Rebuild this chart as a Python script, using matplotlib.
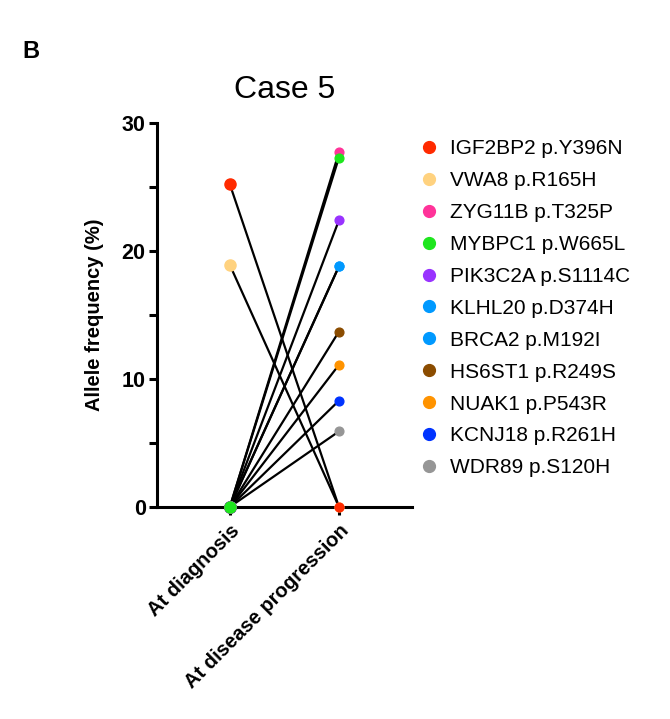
import matplotlib
matplotlib.use("Agg")
import matplotlib.pyplot as plt
from matplotlib.lines import Line2D

plt.rcParams['font.family'] = ['Liberation Sans', 'DejaVu Sans']

timepoints = ["At diagnosis", "At disease progression"]
variants = ["IGF2BP2 p.Y396N", "VWA8 p.R165H", "ZYG11B p.T325P", "MYBPC1 p.W665L",
            "PIK3C2A p.S1114C", "KLHL20 p.D374H", "BRCA2 p.M192I", "HS6ST1 p.R249S",
            "NUAK1 p.P543R", "KCNJ18 p.R261H", "WDR89 p.S120H"]
at_diagnosis = [25.2, 18.9, 0, 0, 0, 0, 0, 0, 0, 0, 0]
at_progression = [0, 0, 27.7, 27.3, 22.4, 18.8, 18.8, 13.7, 11.1, 8.3, 5.9]
colors = ["#ff2a00", "#ffd27f", "#ff3399", "#1ee61e", "#9933ff", "#0099ff",
          "#0099ff", "#8b4c00", "#ff9300", "#0033ff", "#969696"]

fig = plt.figure(figsize=(6.7, 7.19), dpi=100)
ax = fig.add_axes([0.234, 0.295, 0.381, 0.534])

n = len(variants)
for i in reversed(range(n)):
    ax.plot([0, 1], [at_diagnosis[i], at_progression[i]], color="black", lw=1.6, zorder=2)
for i in reversed(range(n)):
    z = 5 if variants[i].startswith("MYBPC1") else 3 + (n - i) * 0.01
    ax.plot(0, at_diagnosis[i], 'o', ms=8, color=colors[i], zorder=z, clip_on=False)
    ax.plot(1, at_progression[i], 'o', ms=6.3, color=colors[i], zorder=z, clip_on=False)

ax.set_xlim(-0.67, 1.67)
ax.set_ylim(0, 30)
ax.set_yticks([0, 10, 20, 30])
ax.set_yticks([5, 15, 25], minor=True)
ax.set_xticks([0, 1])
ax.set_xticklabels(timepoints, rotation=45, ha="right", rotation_mode="anchor",
                   fontsize=14.5, fontweight="bold")
for lab in ax.get_yticklabels():
    lab.set_fontsize(15.5)
    lab.set_fontweight("bold")
ax.tick_params(axis="y", which="major", length=6, width=2.2, pad=2)
ax.tick_params(axis="y", which="minor", length=6, width=2.2)
ax.tick_params(axis="x", length=6, width=2.2, pad=4)
for s in ["top", "right"]:
    ax.spines[s].set_visible(False)
for s in ["left", "bottom"]:
    ax.spines[s].set_linewidth(2.2)
ax.set_ylabel("Allele frequency (%)", fontsize=14.5, fontweight="bold", labelpad=13)
ax.set_title("Case 5", fontsize=23, pad=18)

handles = [Line2D([], [], marker='o', ls='', ms=8.5, color=c) for c in colors]
fig.legend(handles, variants, loc="upper left", bbox_to_anchor=(0.615, 0.818),
           frameon=False, fontsize=15, handlelength=0.8, handletextpad=0.6,
           labelspacing=0.62, borderaxespad=0)

fig.text(0.033, 0.92, "B", fontsize=17, fontweight="bold")

fig.savefig("out.png", dpi=100)
